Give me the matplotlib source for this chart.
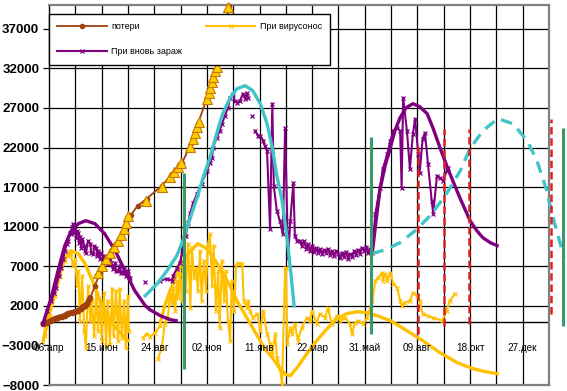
import numpy as np
import matplotlib
matplotlib.use("Agg")
import matplotlib.pyplot as plt

plt.rcParams['font.family'] = ['Liberation Sans', 'DejaVu Sans']

nan = np.nan

# ось X: дни от 06.04.2020
date_labels = ['06.апр', '15.июн', '24.авг', '02.ноя', '11.янв',
               '22.мар', '31.май', '09.авг', '18.окт', '27.дек']

# потери (коричневая линия)
loss_days = [-8, -3, 3, 8, 12, 17, 21, 25, 31, 35, 39, 43, 45, 48, 51, 55, 61, 68, 76,
             84, 92, 102, 109, 118, 130, 150, 164, 177, 188, 198, 210, 218, 225, 237, 239]
loss_vals = [-250, -130, 130, 380, 500, 630, 760, 1010, 1140, 1260, 1390, 1640, 1890,
             2020, 2270, 3030, 4550, 6190, 7700, 8970, 10230, 12250, 13510, 14650, 15530,
             17180, 18690, 20080, 22230, 25010, 28170, 30820, 32710, 38020, 39900]

# треугольники на линии потерь
tri_days = [65, 70, 76, 81, 86, 92, 96, 100, 102, 105, 129, 150, 161, 166, 172, 176,
            188, 192, 194, 197, 200, 210, 213, 214, 217, 218, 221, 223, 235, 238]
tri_vals = [6190, 7070, 7960, 8720, 9470, 10230, 10990, 11750, 12500, 13390, 15280,
            17050, 18310, 18950, 19580, 20080, 22100, 23110, 23870, 24630, 25260,
            28170, 28920, 29550, 30310, 30940, 31700, 32210, 38020, 39790]

# При вновь зараж (фиолетовый, шумный)
new_days = [-8, -3, 3, 7, 9, 13, 16, 19, 21, 24, 25, 28, 29, 31, 32, 33, 35, 36, 37, 39,
            40, 41, 43, 44, 47, 48, 49, 52, 55, 56, 59, 60, 63, 64, 65, 68, 69, 72, 74,
            76, 78, 81, 82, 85, 88, 89, 92, 94, 96, 98, 100, 102, 105, 108,
            nan, 128, nan,
            148, 157, 164, 165, 170, 174, 177, 178, 182, 185, 188, 192, 197, 203, 210,
            214, 217, 218, 223, 227, 230, 234, 238, 241, 245, 247, 250, 254, 258, 261,
            263, 265,
            nan, 270, nan,
            274, 278, 281, 285, 287, 290, 294, 297, 299, 303, 307, 311, 314, 318, 321,
            325, 327, 330, 334, 336, 339, 342, 344, 347, 350, 352, 355, 358, 360, 363,
            366, 368, 371, 374, 376, 379, 382, 384, 387, 390, 392, 395, 398, 400, 403,
            406, 408, 411, 414, 416, 419, 422, 424, 427, 430, 434, 440, 444, 450, 454,
            458, 463, 467, 469, 471, 476, 480, 484, 487, 491, 493, 497, 500, 504, 509,
            511, 516, 520, 524, 529, 531]
new_vals = [-250, 1390, 2650, 3660, 4290, 5810, 6820, 7960, 8970, 9850, 10230, 11240,
            11110, 12000, 12380, 11240, 11750, 10610, 11490, 11240, 9980, 10740, 9350,
            10480, 9600, 8970, 8720, 10230, 9850, 8720, 8590, 9600, 9350, 8340, 8970,
            7960, 8720, 8340, 7450, 8210, 7330, 7960, 7450, 6690, 7450, 6440, 6440,
            7070, 6190, 6190, 6690, 5810, 6440, 5560,
            nan, 5050, nan,
            5180, 5430, 5180, 5810, 6690, 7450, 8590, 9220, 10860, 12500, 13770, 15030,
            16170, 17430, 19070, 20080, 20710, 21980, 23240, 24120, 25010, 26020, 27030,
            28290, 28800, 27910, 27660, 27910, 28800, 28170, 28920, 28290,
            nan, 26020, nan,
            24120, 23490, 23490, 22860, 22230, 21600, 11750, 27530, 17180, 14020, 12760,
            11110, 24500, 8080, 12760, 17560, 10860, 10230, 10230, 9600, 10230, 9220,
            9850, 8970, 9600, 8840, 9350, 8720, 9220, 8590, 9090, 8720, 9220, 8460, 8970,
            8340, 8970, 8590, 8080, 8720, 8210, 8840, 7960, 8590, 8210, 8970, 8460, 9090,
            8590, 9350, 8970, 9470, 8720, 9220, 8720, 13640, 16920, 19320, 21220, 22860,
            24120, 24500, 24120, 16920, 28290, 24120, 19320, 23740, 25640, 21220, 18820,
            23110, 23870, 19950, 15280, 13640, 18440, 18190, 17810, 19070, 19450]

# сглаженные кривые (фиолетовые)
new_fit1_days = [-8, 3, 12, 21, 29, 39, 49, 61, 74, 88, 101, 114, 128, 134, 148, 161, 169]
new_fit1_vals = [-250, 3030, 6440, 9600, 11370, 12380, 12760, 12380, 11110, 8970, 6440,
                 3920, 2020, 1520, 760, 250, 130]
new_fit2_days = [430, 435, 440, 447, 454, 460, 467, 475, 484, 493, 503, 511, 520, 529,
                 537, 547, 560, 569, 577, 587, 596]
new_fit2_vals = [8720, 12760, 16550, 19700, 21980, 24120, 25770, 27030, 27530, 27160,
                 26270, 24380, 21980, 19700, 17810, 15530, 12760, 11490, 10610, 9980, 9600]

# бирюзовые кривые
cyan_days = [128, 144, 157, 170, 178, 188, 197, 205, 214, 223, 231, 241, 250, 261, 271,
             281, 290, 297, 303, 310, 317, 322, 326]
cyan_vals = [3280, 4800, 6440, 8340, 10230, 13130, 15660, 18190, 20710, 23740, 26270,
             28290, 29430, 29810, 29180, 27530, 25010, 21980, 18440, 15280, 10230, 5810, 2020]
cyan_dash_days = [430, 447, 467, 487, 507, 527, 547, 560, 577, 597, 617, 636, 649, 662,
                  669, 677, 685]
cyan_dash_vals = [8590, 9090, 9980, 11490, 13390, 15910, 19070, 21850, 24120, 25640,
                  25010, 22860, 20330, 16550, 13640, 10860, 8080]

# При вирусонос (жёлтый, шумный)
carrier_days = [-5, 1, 8, 15, 21, 25, 29, 32, 35, 37, 39, 41, 44, 47, 49, 52, 55, 57, 60,
                63, 65, 68, 70, 73, 76, 78, 81, 84, 86, 89, 92, 94, 97, 100, 102, 105, 106,
                nan, 125, 130, 134, 141, 148, nan,
                145, 150, 154, 158, 161, 164, 165, 168, 170, 172, 174, 177, 178, 182, 185,
                188, 190, 193, 196, 198, 201, 203, 206, 209, 211, 214, 217, 219, 222, 225,
                227, 230, 233, 235, 238, 241, 243, 246, 249, 251, 254, 257, 259, 263, 265,
                267, 271, 277, 281, 285, 290, 294, 297, 301, 303, 307, 310, 314, 315, 317,
                321, 323, 327, 331, 336, 343, 347, 350, 356, 360, 367, 371, 376, 383, 387,
                394, 400, 403, 407, 411, 418, 423, 430, 434, 438, 443, 444, 447, 450, 454,
                458, 463, 467, 469, 473, 480, 484, 489, 493, 497, 504, 511, 523, 529, 533, 540]
carrier_vals = [-1770, 760, 3280, 5810, 7700, 8340, 8590, 7070, 7960, 4550, 6440, 130, 5810,
                -1140, -3280, 4550, 130, 2650, -1770, 4170, -1140, 2650, -2400, 3660, -3030,
                2650, -2780, 4170, -1770, 3920, -2400, 4170, -2020, 2650, -3280, 3280, -1140,
                nan, -2020, -1520, -1900, -1390, -510, nan,
                -4670, -3280, -250, 510, 3540, 2270, 4290, 1390, 5180, 3030, 6060, 2650,
                6820, 3920, 9850, 1770, 9350, 5560, 6820, 3920, 8970, 2650, 7700, 3920,
                9600, 11110, 4550, 9600, 1390, 6440, -760, 7700, 2650, 6440, 130, -2400,
                5180, 1390, 7070, 7450, 7330, 7330, 2650, 1770, 2650, 1390, 510, 1010,
                -1140, 1390, -1520, -2780, -4040, -1520, -4550, -5810, -7830, 6820, 6820,
                -2780, -760, -1520, -250, -2400, -760, 510, 130, 1390, -250, 1010, 510,
                1770, -250, 760, 130, 510, -250, -1520, -130, 130, -250, 510, 2650, 5180,
                5560, 6190, 5180, 6060, 5180, 6190, 4800, 4290, 2650, 2020, 2400, 2650,
                3660, 3280, 2650, 1010, 760, 510, 130, 1390, 2650, 3540]

# сглаженные кривые (жёлтые)
carrier_fit1_days = [-8, -1, 8, 16, 25, 29, 39, 48, 56, 63, 68, 76, 84, 92, 100, 105]
carrier_fit1_vals = [-2650, 1010, 4290, 6820, 8590, 8970, 8590, 7330, 5560, 3920, 2650,
                     1010, -130, -1140, -1900, -2400]
carrier_fit2_days = [148, 154, 161, 168, 174, 181, 188, 198, 210, 223, 237, 250, 263, 277,
                     287, 298, 307, 315, 321, 330, 343, 356, 370, 383, 396, 410, 423, 436,
                     454, 476, 497, 520, 543, 564, 580, 596]
carrier_fit2_vals = [-130, 2020, 3920, 5430, 6820, 8080, 8970, 9850, 9220, 7450, 5180, 2650,
                     510, -1770, -3410, -4670, -5940, -6690, -6820, -5810, -4040, -2400,
                     -880, 380, 1010, 1260, 1140, 760, 130, -1140, -2400, -3920, -5180,
                     -5940, -6310, -6570]

# вертикальные отметки
green_days = [180, 428, 684]
green_top = [18820, 23370, 24500]
green_bottom = [-5940, -1520, -510]
red_days = [491, 525, 559, 668]
red_top = [22480, 24380, 24380, 25640]
red_bottom = [-1520, -510, -250, 1010]

BROWN = '#A0400F'
PURPLE = '#800080'
GOLD = '#FFC000'
CYAN = '#40C4C8'
GREEN = '#3A9A6A'
RED = '#E02020'

fig = plt.figure(figsize=(5.67, 3.91), dpi=100)
ax = fig.add_axes([49 / 567, 6 / 391, 500 / 567, 380 / 391])
ax.set_xlim(0, 665)
ax.set_ylim(-8000, 40000)

# сетка
for d in range(35, 665, 35):
    ax.axvline(d, color='black', lw=0.9, zorder=1)
for v in range(2000, 40000, 5000):
    ax.axhline(v, color='black', lw=0.9, zorder=1)
ax.axhline(0, color='black', lw=1.0, zorder=1)

kw = dict(clip_on=False)
ax.plot(carrier_days, carrier_vals, color=GOLD, lw=1.5, marker='x', ms=3, mew=0.8,
        label='При вирусонос', zorder=3, **kw)
ax.plot(carrier_fit1_days, carrier_fit1_vals, color=GOLD, lw=2.4, zorder=3, **kw)
ax.plot(carrier_fit2_days, carrier_fit2_vals, color=GOLD, lw=2.4, zorder=3, **kw)
ax.plot(loss_days, loss_vals, color=BROWN, lw=1.3, marker='o', ms=3, mec=BROWN,
        label='потери', zorder=4, **kw)
# плотное начало линии потерь
ax.plot(loss_days[:16], loss_vals[:16], color=BROWN, lw=4, solid_capstyle='round',
        zorder=4, **kw)
ax.plot(tri_days, tri_vals, ls='none', marker='^', ms=7, mfc='#FFCC00', mec='#C87800',
        mew=0.8, zorder=5, **kw)
ax.plot(new_days, new_vals, color=PURPLE, lw=1.5, marker='x', ms=3.5, mew=0.9,
        label='При вновь зараж', zorder=4, **kw)
ax.plot(new_fit1_days, new_fit1_vals, color=PURPLE, lw=2.4, zorder=4, **kw)
ax.plot(new_fit2_days, new_fit2_vals, color=PURPLE, lw=2.4, zorder=4, **kw)
ax.plot(cyan_days, cyan_vals, color=CYAN, lw=2.4, zorder=5, **kw)
ax.plot(cyan_dash_days, cyan_dash_vals, color=CYAN, lw=2.4, ls=(0, (3.5, 2.3)), zorder=5, **kw)
ax.vlines(green_days, green_bottom, green_top, color=GREEN, lw=2.2, zorder=6, **kw)
ax.vlines(red_days, red_bottom, red_top, color=RED, lw=1.8, linestyles=(0, (3, 1.5)),
          zorder=6, **kw)

# рамка
for s in ['top', 'right', 'bottom']:
    ax.spines[s].set_color('#808080')
    ax.spines[s].set_linewidth(1.6)
ax.spines['left'].set_color('black')
ax.spines['left'].set_linewidth(1.0)

ax.set_xticks([])
ax.set_yticks(range(-8000, 40000, 5000))
ax.tick_params(axis='y', length=4, width=0.9, pad=3, labelsize=9.5)
for lab in ax.get_yticklabels():
    lab.set_fontweight('bold')

for i, lab in enumerate(date_labels):
    ax.text(i * 70, -3300, lab, ha='center', va='center', fontsize=7.2, zorder=7)

h, l = ax.get_legend_handles_labels()
order = [l.index('потери'), l.index('При вновь зараж'), l.index('При вирусонос')]
leg = ax.legend([h[i] for i in order], [l[i] for i in order], ncol=2,
                loc='upper left', bbox_to_anchor=(0, 1 - 9 / 380), borderaxespad=0,
                fontsize=6.5, handlelength=5.5, handletextpad=0.5, columnspacing=2.6,
                borderpad=0.9, labelspacing=1.8, numpoints=1, fancybox=False,
                framealpha=1, edgecolor='black')
leg.get_frame().set_linewidth(1.0)
leg.set_zorder(10)

fig.savefig('out.png', dpi=100)
